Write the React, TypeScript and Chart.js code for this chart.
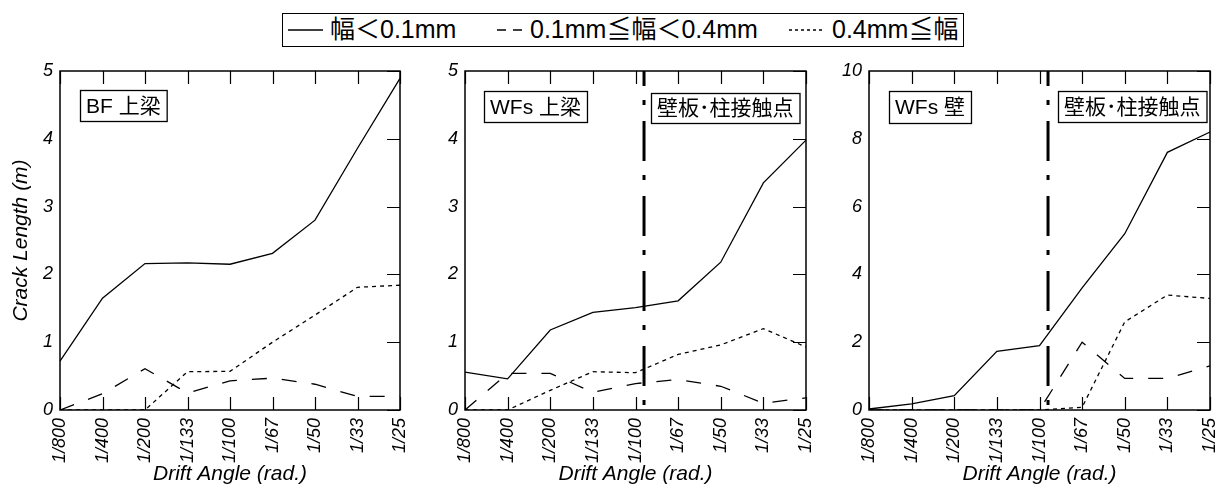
import React, { useEffect, useRef } from "react";
import { Chart, registerables } from "chart.js";

Chart.register(...registerables);

const FONT = '"Liberation Sans", Arial, "Noto Sans CJK JP", sans-serif';

// ---- data ----
const ANGLE_LABELS = ["1/800", "1/400", "1/200", "1/133", "1/100", "1/67", "1/50", "1/33", "1/25"];
const SERIES_NAMES = ["幅＜0.1mm", "0.1mm≦幅＜0.4mm", "0.4mm≦幅"];
const CONTACT_LABEL = "壁板･柱接触点";
const CONTACT_POSITION = 4.2; // category index where the wall-column contact occurs

const BF_BEAM_TITLE = "BF 上梁";
const BF_BEAM_NARROW = [0.72, 1.65, 2.16, 2.17, 2.15, 2.31, 2.8, 3.86, 4.89];
const BF_BEAM_MEDIUM = [0, 0.24, 0.61, 0.25, 0.43, 0.47, 0.38, 0.2, 0.2];
const BF_BEAM_WIDE = [0, 0, 0, 0.565, 0.57, 1.0, 1.4, 1.81, 1.84];

const WFS_BEAM_TITLE = "WFs 上梁";
const WFS_BEAM_NARROW = [0.56, 0.46, 1.18, 1.44, 1.51, 1.61, 2.18, 3.35, 3.98];
const WFS_BEAM_MEDIUM = [0, 0.54, 0.54, 0.26, 0.39, 0.45, 0.35, 0.1, 0.18];
const WFS_BEAM_WIDE = [0, 0, 0.29, 0.565, 0.55, 0.82, 0.96, 1.2, 0.93];

const WFS_WALL_TITLE = "WFs 壁";
const WFS_WALL_NARROW = [0.03, 0.18, 0.42, 1.73, 1.9, 3.6, 5.2, 7.6, 8.2];
const WFS_WALL_MEDIUM = [0, 0, 0, 0, 0, 2.0, 0.93, 0.93, 1.3];
const WFS_WALL_WIDE = [0, 0, 0, 0, 0, 0.08, 2.6, 3.39, 3.29];

const Y_TITLE = "Crack Length (m)";
const X_TITLE = "Drift Angle (rad.)";

// ---- styles ----
const DASHES = [[], [15, 15], [4, 4]];
const WIDTHS = [1.3, 1.3, 1.3];

type BoxSpec = { text: string; dx: number; dy: number; h: number };

const framePlugin = {
  id: "frame",
  afterDatasetsDraw(chart: any, _args: any, opts: any) {
    const ctx = chart.ctx;
    const { left, right, top, bottom } = chart.chartArea;
    const xs = chart.scales.x;
    const ys = chart.scales.y;
    ctx.save();
    ctx.strokeStyle = "#000";
    ctx.setLineDash([]);
    if (opts.vline != null) {
      const i = Math.floor(opts.vline);
      const f = opts.vline - i;
      const px = xs.getPixelForValue(i) + f * (xs.getPixelForValue(i + 1) - xs.getPixelForValue(i));
      ctx.lineWidth = 3;
      ctx.setLineDash([40, 14, 5, 16]);
      ctx.lineDashOffset = 25;
      ctx.beginPath();
      ctx.moveTo(px, top);
      ctx.lineTo(px, bottom);
      ctx.stroke();
      ctx.setLineDash([]);
      ctx.lineDashOffset = 0;
    }
    ctx.lineWidth = 1.5;
    ctx.strokeRect(left, top, right - left, bottom - top);
    ctx.lineWidth = 1.2;
    ctx.beginPath();
    const TL = 13;
    xs.ticks.forEach((_t: any, idx: number) => {
      const px = Math.round(xs.getPixelForTick(idx)) + 0.5;
      ctx.moveTo(px, bottom);
      ctx.lineTo(px, bottom - TL);
      ctx.moveTo(px, top);
      ctx.lineTo(px, top + TL);
    });
    ys.ticks.forEach((_t: any, idx: number) => {
      const py = Math.round(ys.getPixelForTick(idx)) + 0.5;
      ctx.moveTo(right, py);
      ctx.lineTo(right - TL, py);
    });
    ctx.stroke();
    ctx.font = `21px ${FONT}`;
    ctx.textBaseline = "middle";
    ctx.textAlign = "left";
    (opts.boxes || []).forEach((b: BoxSpec) => {
      const w = ctx.measureText(b.text).width + 12;
      const x = left + b.dx;
      const y = top + b.dy;
      ctx.fillStyle = "#fff";
      ctx.fillRect(x, y, w, b.h);
      ctx.lineWidth = 1.3;
      ctx.strokeRect(x + 0.5, y + 0.5, w, b.h);
      ctx.fillStyle = "#000";
      ctx.fillText(b.text, x + 6, y + b.h / 2 + 1.5);
    });
    ctx.restore();
  },
};

type PanelSpec = {
  left: number;
  width: number;
  yWidth: number;
  padRight: number;
  ymax: number;
  step: number;
  showYTitle: boolean;
  series: number[][];
  boxes: BoxSpec[];
  vline: number | null;
};

const PANELS: PanelSpec[] = [
  {
    left: 0, width: 410, yWidth: 60, padRight: 10, ymax: 5, step: 1, showYTitle: true,
    series: [BF_BEAM_NARROW, BF_BEAM_MEDIUM, BF_BEAM_WIDE],
    boxes: [{ text: BF_BEAM_TITLE, dx: 20, dy: 19, h: 31 }],
    vline: null,
  },
  {
    left: 410, width: 410, yWidth: 55, padRight: 14, ymax: 5, step: 1, showYTitle: false,
    series: [WFS_BEAM_NARROW, WFS_BEAM_MEDIUM, WFS_BEAM_WIDE],
    boxes: [
      { text: WFS_BEAM_TITLE, dx: 19, dy: 20, h: 31 },
      { text: CONTACT_LABEL, dx: 186, dy: 22, h: 30 },
    ],
    vline: CONTACT_POSITION,
  },
  {
    left: 820, width: 405, yWidth: 49, padRight: 15, ymax: 10, step: 2, showYTitle: false,
    series: [WFS_WALL_NARROW, WFS_WALL_MEDIUM, WFS_WALL_WIDE],
    boxes: [
      { text: WFS_WALL_TITLE, dx: 20, dy: 20, h: 32 },
      { text: CONTACT_LABEL, dx: 189, dy: 20, h: 31 },
    ],
    vline: CONTACT_POSITION,
  },
];

function Panel({ spec }: { spec: PanelSpec }) {
  const ref = useRef<HTMLCanvasElement>(null);
  useEffect(() => {
    if (!ref.current) return;
    const chart = new Chart(ref.current, {
      type: "line",
      data: {
        labels: ANGLE_LABELS,
        datasets: spec.series.map((d, i) => ({
          label: SERIES_NAMES[i],
          data: d,
          borderColor: "#000",
          backgroundColor: "#000",
          borderWidth: WIDTHS[i],
          borderDash: DASHES[i],
          pointRadius: 0,
          tension: 0,
          fill: false,
        })),
      },
      options: {
        animation: false,
        responsive: false,
        maintainAspectRatio: false,
        layout: { padding: { top: 71, right: spec.padRight, left: 0, bottom: 0 } },
        plugins: {
          legend: { display: false },
          tooltip: { enabled: false },
          frame: { boxes: spec.boxes, vline: spec.vline },
        } as any,
        scales: {
          x: {
            type: "category",
            offset: false,
            grid: { display: false, drawTicks: false },
            border: { display: false },
            ticks: {
              autoSkip: false,
              minRotation: 90,
              maxRotation: 90,
              padding: 8,
              color: "#000",
              font: { family: FONT, size: 18, style: "italic" },
            },
            title: {
              display: true,
              text: X_TITLE,
              color: "#000",
              font: { family: FONT, size: 21, style: "italic" },
              padding: { top: 0, bottom: 8 },
            },
            afterFit: (s: any) => {
              s.height = 85;
              s.paddingLeft = 0;
              s.paddingRight = 0;
            },
          },
          y: {
            min: 0,
            max: spec.ymax,
            grid: { display: false, drawTicks: false },
            border: { display: false },
            ticks: {
              stepSize: spec.step,
              padding: 7,
              color: "#000",
              font: { family: FONT, size: 18, style: "italic" },
            },
            title: {
              display: spec.showYTitle,
              text: Y_TITLE,
              color: "#000",
              font: { family: FONT, size: 21, style: "italic" },
              padding: { top: 9, bottom: 0 },
            },
            afterFit: (s: any) => {
              s.width = spec.yWidth;
              s.paddingTop = 0;
              s.paddingBottom = 0;
            },
          },
        },
      } as any,
      plugins: [framePlugin],
    });
    return () => chart.destroy();
  }, [spec]);
  return (
    <canvas
      ref={ref}
      width={spec.width}
      height={495}
      style={{ position: "absolute", left: spec.left, top: 0, width: spec.width, height: 495 }}
    />
  );
}

function LegendSample({ dash }: { dash: string }) {
  return (
    <svg width={36} height={10} style={{ display: "block" }}>
      <line x1={0} y1={5} x2={36} y2={5} stroke="#000" strokeWidth={1.6} strokeDasharray={dash} />
    </svg>
  );
}

export default function App() {
  const legendItems = [
    { sampleLeft: 5, sampleW: 35, dash: "", textLeft: 47 },
    { sampleLeft: 214, sampleW: 28, dash: "9 7", textLeft: 247 },
    { sampleLeft: 506, sampleW: 34, dash: "3 3", textLeft: 549 },
  ];
  return (
    <div style={{ position: "absolute", left: 0, top: 0, width: 1225, height: 495, background: "#fff", overflow: "hidden" }}>
      {PANELS.map((p, i) => (
        <Panel key={i} spec={p} />
      ))}
      <div
        style={{
          position: "absolute",
          left: 282,
          top: 13,
          width: 682,
          height: 34,
          border: "1.5px solid #000",
          boxSizing: "border-box",
          fontFamily: FONT,
          fontSize: 25,
          color: "#000",
          background: "#fff",
        }}
      >
        {legendItems.map((it, i) => (
          <React.Fragment key={i}>
            <div style={{ position: "absolute", left: it.sampleLeft, top: 11, width: it.sampleW, overflow: "hidden" }}>
              <LegendSample dash={it.dash} />
            </div>
            <div style={{ position: "absolute", left: it.textLeft, top: 0, lineHeight: "31px", whiteSpace: "nowrap" }}>
              {SERIES_NAMES[i]}
            </div>
          </React.Fragment>
        ))}
      </div>
    </div>
  );
}
